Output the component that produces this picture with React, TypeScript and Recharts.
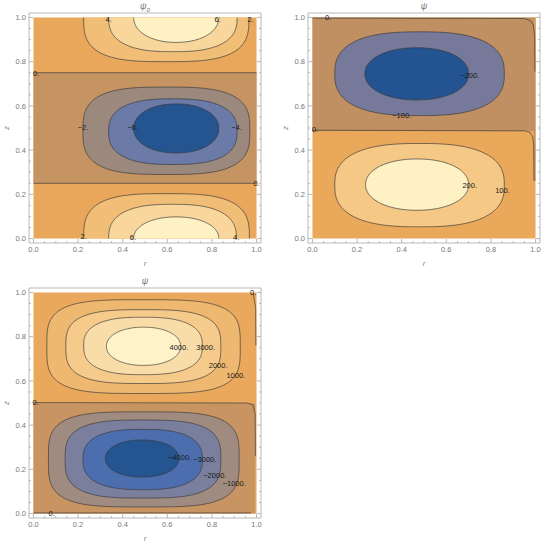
import * as React from "react";
import {
  ComposedChart,
  XAxis,
  YAxis,
  ReferenceArea,
  ReferenceDot,
  Scatter,
} from "recharts";

// frame ticks (r and z share them)
const allTicks = [
  0, 0.05, 0.1, 0.15, 0.2, 0.25, 0.3, 0.35, 0.4, 0.45, 0.5, 0.55, 0.6, 0.65,
  0.7, 0.75, 0.8, 0.85, 0.9, 0.95, 1,
];
const majorTicks = [0, 0.2, 0.4, 0.6, 0.8, 1];

// ---- psi_0 ----
const psi0Bands = [
  { sign: 1, r1: 0, r2: 1, z1: 0, z2: 1 },
  { sign: -1, r1: 0, r2: 1, z1: 0.25, z2: 0.75 },
];
const psi0Contours = [
  { level: 2, r1: 0.225, r2: 0.966, z1: 0.8, z2: 1 },
  { level: 4, r1: 0.337, r2: 0.913, z1: 0.845, z2: 1 },
  { level: 6, r1: 0.449, r2: 0.831, z1: 0.887, z2: 1 },
  { level: 2, r1: 0.225, r2: 0.968, z1: 0, z2: 0.203 },
  { level: 4, r1: 0.337, r2: 0.91, z1: 0, z2: 0.155 },
  { level: 6, r1: 0.449, r2: 0.831, z1: 0, z2: 0.098 },
  { level: -2, r1: 0.222, r2: 0.97, z1: 0.29, z2: 0.685 },
  { level: -4, r1: 0.337, r2: 0.913, z1: 0.335, z2: 0.632 },
  { level: -6, r1: 0.449, r2: 0.831, z1: 0.387, z2: 0.609 },
];
const psi0Zero = [
  [{ r: 0, z: 0.75 }, { r: 1, z: 0.75 }],
  [{ r: 0, z: 0.25 }, { r: 1, z: 0.25 }],
];
const psi0Labels = [
  { text: "4.", r: 0.337, z: 0.99 },
  { text: "6.", r: 0.826, z: 0.993 },
  { text: "2.", r: 0.973, z: 0.993 },
  { text: "0.", r: 0.012, z: 0.748 },
  { text: "−2.", r: 0.222, z: 0.503 },
  { text: "−6.", r: 0.444, z: 0.503 },
  { text: "−4.", r: 0.91, z: 0.503 },
  { text: "0.", r: 1.0, z: 0.251 },
  { text: "2.", r: 0.225, z: 0.008 },
  { text: "6.", r: 0.446, z: 0.004 },
  { text: "4.", r: 0.909, z: 0.004 },
];

// ---- psi (middle value scale) ----
const psiABands = [
  { sign: 1, r1: 0, r2: 1, z1: 0, z2: 1 },
  { sign: -1, r1: 0, r2: 1, z1: 0.487, z2: 1 },
  { sign: 1, r1: 0.996, r2: 1, z1: 0.75, z2: 1 },
  { sign: -1, r1: 0.992, r2: 1, z1: 0.26, z2: 0.487 },
];
const psiAContours = [
  { level: -100, r1: 0.1, r2: 0.86, z1: 0.556, z2: 0.935 },
  { level: -200, r1: 0.235, r2: 0.7, z1: 0.627, z2: 0.863 },
  { level: 100, r1: 0.1, r2: 0.86, z1: 0.053, z2: 0.43 },
  { level: 200, r1: 0.238, r2: 0.7, z1: 0.128, z2: 0.36 },
];
const psiAZero = [
  [
    { r: 0, z: 0.49 },
    { r: 0.95, z: 0.487 },
    { r: 0.975, z: 0.48 },
    { r: 0.987, z: 0.46 },
    { r: 0.992, z: 0.42 },
    { r: 0.993, z: 0.26 },
  ],
  [
    { r: 0, z: 0.997 },
    { r: 0.95, z: 0.995 },
    { r: 0.978, z: 0.985 },
    { r: 0.99, z: 0.965 },
    { r: 0.996, z: 0.92 },
    { r: 0.997, z: 0.755 },
  ],
];
const psiALabels = [
  { text: "0.", r: 0.07, z: 1.0 },
  { text: "0.", r: 0.012, z: 0.495 },
  { text: "−200.", r: 0.705, z: 0.739 },
  { text: "−100.", r: 0.4, z: 0.557 },
  { text: "200.", r: 0.705, z: 0.24 },
  { text: "100.", r: 0.852, z: 0.218 },
];

// ---- psi (large value scale) ----
const psiBBands = [
  { sign: 1, r1: 0, r2: 1, z1: 0, z2: 1 },
  { sign: -1, r1: 0, r2: 0.994, z1: 0, z2: 0.5 },
];
const psiBContours = [
  { level: 1000, r1: 0.06, r2: 0.927, z1: 0.543, z2: 0.967 },
  { level: 2000, r1: 0.145, r2: 0.84, z1: 0.588, z2: 0.922 },
  { level: 3000, r1: 0.225, r2: 0.757, z1: 0.628, z2: 0.888 },
  { level: 4000, r1: 0.327, r2: 0.66, z1: 0.67, z2: 0.843 },
  { level: -1000, r1: 0.067, r2: 0.922, z1: 0.03, z2: 0.46 },
  { level: -2000, r1: 0.142, r2: 0.84, z1: 0.07, z2: 0.423 },
  { level: -3000, r1: 0.222, r2: 0.757, z1: 0.108, z2: 0.381 },
  { level: -4000, r1: 0.322, r2: 0.652, z1: 0.165, z2: 0.333 },
];
const psiBZero = [
  [
    { r: 0, z: 0.502 },
    { r: 0.96, z: 0.5 },
    { r: 0.985, z: 0.49 },
    { r: 0.994, z: 0.45 },
    { r: 0.995, z: 0.26 },
  ],
  [
    { r: 0, z: 0.003 },
    { r: 0.975, z: 0.003 },
  ],
  [
    { r: 0.985, z: 0.997 },
    { r: 0.996, z: 0.93 },
    { r: 0.997, z: 0.76 },
  ],
];
const psiBLabels = [
  { text: "0.", r: 0.985, z: 1.0 },
  { text: "0.", r: 0.01, z: 0.502 },
  { text: "0.", r: 0.082, z: 0.002 },
  { text: "4000.", r: 0.652, z: 0.753 },
  { text: "3000.", r: 0.772, z: 0.753 },
  { text: "2000.", r: 0.828, z: 0.67 },
  { text: "1000.", r: 0.907, z: 0.625 },
  { text: "−4000.", r: 0.655, z: 0.253 },
  { text: "−3000.", r: 0.768, z: 0.247 },
  { text: "−2000.", r: 0.813, z: 0.172 },
  { text: "−1000.", r: 0.9, z: 0.135 },
];

const psi0Colors: Record<string, string> = {
  pos: "#E9A75B", neg: "#C69463",
  "2": "#F1BE77", "4": "#F8D69C", "6": "#FEF1C4",
  "-2": "#9C897E", "-4": "#6B7AA6", "-6": "#245590",
};
const psiAColors: Record<string, string> = {
  pos: "#EAA85B", neg: "#C19062",
  "100": "#F5C886", "200": "#FEF1C3",
  "-100": "#767999", "-200": "#245391",
};
const psiBColors: Record<string, string> = {
  pos: "#EAA85C", neg: "#C89562",
  "1000": "#EFB870", "2000": "#F5CA8B", "3000": "#F9DDA8", "4000": "#FEF3C8",
  "-1000": "#A08B80", "-2000": "#7A7F9E", "-3000": "#4D6EAE", "-4000": "#245590",
};

const FRAME = "#b8b8b8";
const TICK_TEXT = "#777";
const FONT = "'Liberation Sans', Arial, sans-serif";
const isMajor = (v: number) => majorTicks.some((m) => Math.abs(m - v) < 1e-6);

function BottomTick({ x, y, payload }: any) {
  const major = isMajor(payload.value);
  return (
    <g>
      <line x1={x} x2={x} y1={y} y2={y - (major ? 4 : 2)} stroke={FRAME} />
      {major && (
        <text x={x} y={y + 9} textAnchor="middle" fontSize={7.5} fill={TICK_TEXT} fontFamily={FONT}>
          {payload.value.toFixed(1)}
        </text>
      )}
    </g>
  );
}
function TopTick({ x, y, payload }: any) {
  const major = isMajor(payload.value);
  return <line x1={x} x2={x} y1={y} y2={y + (major ? 4 : 2)} stroke={FRAME} />;
}
function LeftTick({ x, y, payload }: any) {
  const major = isMajor(payload.value);
  return (
    <g>
      <line x1={x} x2={x + (major ? 4 : 2)} y1={y} y2={y} stroke={FRAME} />
      {major && (
        <text x={x - 3} y={y + 2.7} textAnchor="end" fontSize={7.5} fill={TICK_TEXT} fontFamily={FONT}>
          {payload.value.toFixed(1)}
        </text>
      )}
    </g>
  );
}
function RightTick({ x, y, payload }: any) {
  const major = isMajor(payload.value);
  return <line x1={x} x2={x - (major ? 4 : 2)} y1={y} y2={y} stroke={FRAME} />;
}

type Contour = { level: number; r1: number; r2: number; z1: number; z2: number };

// rounded (superellipse) contour inside the rectangle the library gives us
function contourShape(c: Contour, n: number, fill: string, clipId: string) {
  return (p: any) => {
    const { x, y, width, height } = p;
    const top = c.z2 >= 1;
    const bottom = c.z1 <= 0;
    const a = width / 2;
    const cx = x + a;
    let cy = y + height / 2;
    let b = height / 2;
    if (top && !bottom) {
      cy = y;
      b = height;
    } else if (bottom && !top) {
      cy = y + height;
      b = height;
    }
    const e = 2 / n;
    let d = "";
    for (let k = 0; k <= 180; k++) {
      const t = (2 * Math.PI * k) / 180;
      const co = Math.cos(t);
      const si = Math.sin(t);
      const px = cx + a * Math.sign(co) * Math.pow(Math.abs(co), e);
      const py = cy + b * Math.sign(si) * Math.pow(Math.abs(si), e);
      d += (k === 0 ? "M" : "L") + px.toFixed(2) + "," + py.toFixed(2);
    }
    const cy0 = top ? y : y - 1;
    const cy1 = bottom ? y + height : y + height + 1;
    return (
      <g>
        <defs>
          <clipPath id={clipId}>
            <rect x={x - 1} y={cy0} width={width + 2} height={cy1 - cy0} />
          </clipPath>
        </defs>
        <path
          d={d + "Z"}
          fill={fill}
          stroke="#3a3a3a"
          strokeOpacity={0.85}
          strokeWidth={0.8}
          clipPath={`url(#${clipId})`}
        />
      </g>
    );
  };
}

const axisCommon = {
  type: "number" as const,
  domain: [-0.02, 1.02],
  ticks: allTicks,
  interval: 0 as const,
  tickSize: 0,
  tickMargin: 0,
  tickLine: false,
  axisLine: { stroke: FRAME },
  allowDataOverflow: true,
};

function Panel({
  id,
  left,
  top,
  title,
  bands,
  contours,
  zero,
  labels,
  colors,
}: {
  id: string;
  left: number;
  top: number;
  title: React.ReactNode;
  bands: { sign: number; r1: number; r2: number; z1: number; z2: number }[];
  contours: Contour[];
  zero: { r: number; z: number }[][];
  labels: { text: string; r: number; z: number }[];
  colors: Record<string, string>;
}) {
  const step = Math.min(...contours.map((c) => Math.abs(c.level)));
  const maxAbs = Math.max(...contours.map((c) => Math.abs(c.level)));
  const sorted = contours
    .map((c, i) => ({ c, i }))
    .sort((p, q) => Math.abs(p.c.level) - Math.abs(q.c.level));

  return (
    <div style={{ position: "absolute", left, top, width: 275, height: 275 }}>
      <ComposedChart width={275} height={275} margin={{ top: 9, left: 13, right: 10, bottom: 22 }}>
        <XAxis {...axisCommon} xAxisId={0} dataKey="r" height={10} tick={<BottomTick />} />
        <XAxis {...axisCommon} xAxisId="top" orientation="top" height={4} tick={<TopTick />} />
        <YAxis {...axisCommon} yAxisId={0} dataKey="z" width={16} tick={<LeftTick />} />
        <YAxis {...axisCommon} yAxisId="right" orientation="right" width={4} tick={<RightTick />} />
        {bands.map((b, i) => (
          <ReferenceArea
            key={"b" + i}
            x1={b.r1}
            x2={b.r2}
            y1={b.z1}
            y2={b.z2}
            fill={b.sign > 0 ? colors.pos : colors.neg}
            fillOpacity={1}
            stroke="none"
          />
        ))}
        {sorted.map(({ c, i }) => {
          // outer contours are boxier, inner ones closer to ellipses
          const n = 2.1 + 0.5 * ((maxAbs - Math.abs(c.level)) / step);
          return (
            <ReferenceArea
              key={"c" + i}
              x1={c.r1}
              x2={c.r2}
              y1={c.z1}
              y2={c.z2}
              shape={contourShape(c, n, colors[String(c.level)], `${id}-clip-${i}`)}
            />
          );
        })}
        {zero.map((pts, i) => (
          <Scatter
            key={"z" + i}
            data={pts}
            line={{ stroke: "#3a3a3a", strokeWidth: 0.8, strokeOpacity: 0.85 }}
            shape={() => <g />}
            isAnimationActive={false}
          />
        ))}
        {labels.map((l, i) => (
          <ReferenceDot
            key={"l" + i}
            x={l.r}
            y={l.z}
            r={1}
            shape={(p: any) => (
              <text
                x={p.cx}
                y={p.cy + 2.6}
                textAnchor="middle"
                fontSize={7.5}
                fill="#1a1a1a"
                fontFamily={FONT}
              >
                {l.text}
              </text>
            )}
          />
        ))}
      </ComposedChart>
      <div
        style={{
          position: "absolute", left: 0, top: 1, width: 290, textAlign: "center",
          fontFamily: FONT, fontStyle: "italic", fontSize: 9, color: "#777", lineHeight: "10px",
        }}
      >
        {title}
      </div>
      <div
        style={{
          position: "absolute", left: 0, top: 259, width: 290, textAlign: "center",
          fontFamily: FONT, fontStyle: "italic", fontSize: 8, color: "#888", lineHeight: "10px",
        }}
      >
        r
      </div>
      <div
        style={{
          position: "absolute", left: 2, top: 123, width: 10, height: 10, textAlign: "center",
          fontFamily: FONT, fontStyle: "italic", fontSize: 8, color: "#888", lineHeight: "10px",
          transform: "rotate(-90deg)",
        }}
      >
        z
      </div>
    </div>
  );
}

export default function App() {
  return (
    <div style={{ position: "absolute", left: 0, top: 0, width: 550, height: 549, background: "#fff" }}>
      <Panel
        id="p0"
        left={0}
        top={0}
        title={<span>ψ<sub style={{ fontSize: 6 }}>0</sub></span>}
        bands={psi0Bands}
        contours={psi0Contours}
        zero={psi0Zero}
        labels={psi0Labels}
        colors={psi0Colors}
      />
      <Panel
        id="p1"
        left={279}
        top={0}
        title="ψ"
        bands={psiABands}
        contours={psiAContours}
        zero={psiAZero}
        labels={psiALabels}
        colors={psiAColors}
      />
      <Panel
        id="p2"
        left={0}
        top={275}
        title="ψ"
        bands={psiBBands}
        contours={psiBContours}
        zero={psiBZero}
        labels={psiBLabels}
        colors={psiBColors}
      />
    </div>
  );
}
